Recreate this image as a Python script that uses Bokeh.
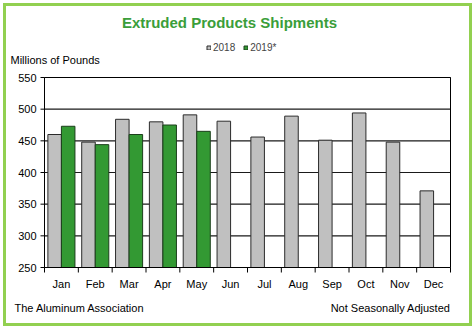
from bokeh.plotting import figure
from bokeh.models import Range1d, FixedTicker, Legend, LegendItem, Label, InlineStyleSheet
from bokeh.embed import file_html
from bokeh.resources import INLINE

# Monthly extruded products shipments, millions of pounds
months = ["Jan", "Feb", "Mar", "Apr", "May", "Jun",
          "Jul", "Aug", "Sep", "Oct", "Nov", "Dec"]
shipments_2018 = [460, 448, 484, 480, 491, 481, 456, 489, 451, 494, 448, 371]
shipments_2019 = [473, 444, 460, 475, 465]
y_ticks = [250, 300, 350, 400, 450, 500, 550]

FONT = "Liberation Sans Narrow, Arial Narrow, Liberation Sans, Arial, sans-serif"
GRAY = "#c0c0c0"
GREEN = "#339933"
TITLE_GREEN = "#3a9e3a"

W, H = 476, 329
N = len(months)
Y0, Y1 = y_ticks[0], y_ticks[-1]

# plot area inside the canvas (pixels); the frame spans the whole canvas
PA_LEFT, PA_RIGHT, PA_TOP, PA_BOTTOM = 44, 450, 77, 267
ppx = (PA_RIGHT - PA_LEFT) / N
ppy = (PA_BOTTOM - PA_TOP) / (Y1 - Y0)
x_range = Range1d(-PA_LEFT / ppx, N + (W - PA_RIGHT) / ppx)
y_range = Range1d(Y0 - (H - PA_BOTTOM) / ppy, Y1 + PA_TOP / ppy)

p = figure(width=W, height=H, output_backend="svg", toolbar_location=None,
           x_range=x_range, y_range=y_range, min_border=0)
p.title.visible = False
p.background_fill_color = "white"
p.border_fill_color = "white"
p.outline_line_color = None

# horizontal gridlines across the plot area
p.segment(x0=[0] * len(y_ticks), x1=[N] * len(y_ticks), y0=y_ticks, y1=y_ticks,
          line_color="#1a1a1a", line_width=1.2)

# bars: 2018 on the left half of each month, 2019 on the right half
BAR_W = 0.4
r18 = p.vbar(x=[i + 0.5 - BAR_W / 2 for i in range(N)], top=shipments_2018,
             bottom=Y0, width=BAR_W, fill_color=GRAY,
             line_color="#2b2b2b", line_width=1)
r19 = p.vbar(x=[i + 0.5 + BAR_W / 2 for i in range(len(shipments_2019))],
             top=shipments_2019, bottom=Y0, width=BAR_W,
             fill_color=GREEN, line_color="#1c3f1c", line_width=1)

# plot-area border: left, right, bottom, top
p.segment(x0=[0, N, 0, 0], x1=[0, N, N, N],
          y0=[Y0, Y0, Y0, Y1], y1=[Y1, Y1, Y0, Y1],
          line_color="black", line_width=1)

# tick marks: outside the left edge at each value, below the bottom edge
# between months
p.segment(x0=[-4 / ppx] * len(y_ticks), x1=[0] * len(y_ticks),
          y0=y_ticks, y1=y_ticks, line_color="black", line_width=1)
p.segment(x0=list(range(N + 1)), x1=list(range(N + 1)),
          y0=[Y0] * (N + 1), y1=[Y0 - 5 / ppy] * (N + 1),
          line_color="black", line_width=1)

# axes pinned to the plot-area edges (labels only)
p.xaxis.fixed_location = Y0
p.yaxis.fixed_location = 0

p.xgrid.visible = False
p.ygrid.visible = False
p.yaxis.ticker = FixedTicker(ticks=y_ticks)
p.xaxis.ticker = FixedTicker(ticks=[i + 0.5 for i in range(N)])
p.xaxis.major_label_overrides = {i + 0.5: m for i, m in enumerate(months)}

for ax in (p.xaxis[0], p.yaxis[0]):
    ax.axis_line_color = None
    ax.major_tick_line_color = None
    ax.minor_tick_line_color = None
    ax.major_tick_in = 0
    ax.major_tick_out = 0
    ax.minor_tick_in = 0
    ax.minor_tick_out = 0
    ax.major_label_text_font = FONT
    ax.major_label_text_font_size = "11px"
    ax.major_label_text_color = "black"

p.yaxis.major_label_standoff = 8
p.xaxis.major_label_standoff = 10

# legend above the plot area
legend = Legend(items=[LegendItem(label="2018", renderers=[r18]),
                       LegendItem(label="2019*", renderers=[r19])],
                orientation="horizontal", location=(206, H - 53),
                glyph_width=5, glyph_height=5, spacing=8,
                label_text_font=FONT, label_text_font_size="10px",
                label_standoff=2, padding=0, margin=0,
                background_fill_alpha=0, border_line_color=None,
                label_height=10)
p.add_layout(legend)

# texts (screen px measured from the bottom-left corner)
def note(x, y_from_top, text, align="left", size="11px", style="normal", color="black"):
    p.add_layout(Label(x=x, y=H - y_from_top, x_units="screen", y_units="screen",
                       text=text, text_align=align, text_baseline="middle",
                       text_font=FONT, text_font_size=size, text_font_style=style,
                       text_color=color))

note(229, 22, "Extruded Products Shipments", align="center", size="15px",
     style="bold", color=TITLE_GREEN)
note(10, 59, "Millions of Pounds")
note(14, 307, "The Aluminum Association")
note(450, 307, "Not Seasonally Adjusted", align="right")

# green frame around the whole chart
p.stylesheets.append(InlineStyleSheet(css="""
:host { position: relative; }
:host::after {
  content: ""; position: absolute; left: 3px; top: 3px; right: 4px; bottom: 3px;
  border: 3px solid #92d050; pointer-events: none; z-index: 100;
}
"""))

open("out.html", "w").write(file_html(p, INLINE))
